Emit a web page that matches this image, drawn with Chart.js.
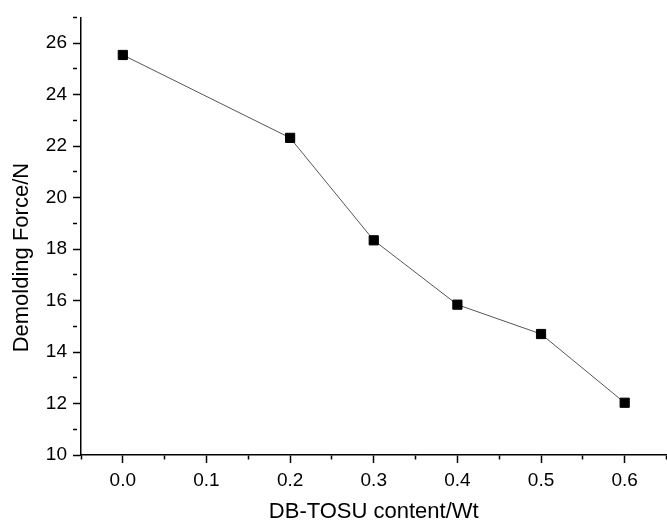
<!DOCTYPE html>
<html><head><meta charset="utf-8">
<script src="https://cdn.jsdelivr.net/npm/chart.js@4"></script>
<style>html,body{margin:0;padding:0;background:#fff;overflow:hidden;}
#wrap{width:674px;height:525px;}
</style></head><body><div id="wrap"><canvas id="c"></canvas></div>
<script>
const contentWt = [0.0, 0.2, 0.3, 0.4, 0.5, 0.6];
const demoldingForce = [25.54, 22.32, 18.34, 15.84, 14.70, 12.03];
const xTickLabels = ['0.0', '0.1', '0.2', '0.3', '0.4', '0.5', '0.6'];
const yTickLabels = ['10', '12', '14', '16', '18', '20', '22', '24', '26'];

const xMajor = v => { const k = Math.round(v / 0.05); return k >= 0 && k % 2 === 0; };
const yMajor = v => { const k = Math.round(v); return k % 2 === 0; };

const FONT = 'Liberation Sans, Arial, sans-serif';

new Chart(document.getElementById('c'), {
  type: 'scatter',
  data: {
    datasets: [{
      data: contentWt.map((x, i) => ({ x: x, y: demoldingForce[i] })),
      showLine: true,
      borderColor: '#555555',
      borderWidth: 1,
      pointStyle: 'rect',
      pointRadius: 6.5,
      pointHoverRadius: 6.5,
      pointBackgroundColor: '#000000',
      pointBorderColor: '#000000',
      pointBorderWidth: 1,
      clip: false
    }]
  },
  options: {
    responsive: true,
    maintainAspectRatio: false,
    animation: false,
    layout: { padding: { top: 15, right: 0, left: 0, bottom: 0 } },
    plugins: { legend: { display: false }, tooltip: { enabled: false } },
    scales: {
      x: {
        type: 'linear',
        min: -0.05,
        max: 0.65,
        afterFit: s => { s.height = 70; },
        border: { color: '#000', width: 1.5 },
        grid: {
          drawOnChartArea: false,
          color: '#000',
          tickColor: '#000',
          tickLength: 8,
          tickWidth: 1.5,
          tickBorderDash: ctx => xMajor(ctx.tick.value) ? [] : [4, 40]
        },
        ticks: {
          stepSize: 0.05,
          autoSkip: false,
          maxRotation: 0,
          padding: 6,
          color: '#000',
          font: { family: FONT, size: 19 },
          callback: v => { const k = Math.round(v / 0.05); return (k >= 0 && k % 2 === 0) ? (xTickLabels[k / 2] || '') : ''; }
        },
        title: {
          display: true,
          text: 'DB-TOSU content/Wt',
          color: '#000',
          font: { family: FONT, size: 22 },
          padding: { top: 0, bottom: 0 }
        }
      },
      y: {
        type: 'linear',
        min: 10,
        max: 27,
        afterFit: s => { s.width = 81; },
        border: { color: '#000', width: 1.5 },
        grid: {
          drawOnChartArea: false,
          color: '#000',
          tickColor: '#000',
          tickLength: 8,
          tickWidth: 1.5,
          tickBorderDash: ctx => yMajor(ctx.tick.value) ? [] : [4, 40]
        },
        ticks: {
          stepSize: 1,
          autoSkip: false,
          padding: 6,
          color: '#000',
          font: { family: FONT, size: 19 },
          callback: v => { const k = Math.round(v); return (k % 2 === 0) ? (yTickLabels[(k - 10) / 2] || '') : ''; }
        },
        title: {
          display: true,
          text: 'Demolding Force/N       ',
          color: '#000',
          font: { family: FONT, size: 22 },
          padding: { top: 9, bottom: 0 }
        }
      }
    }
  }
});
</script></body></html>
